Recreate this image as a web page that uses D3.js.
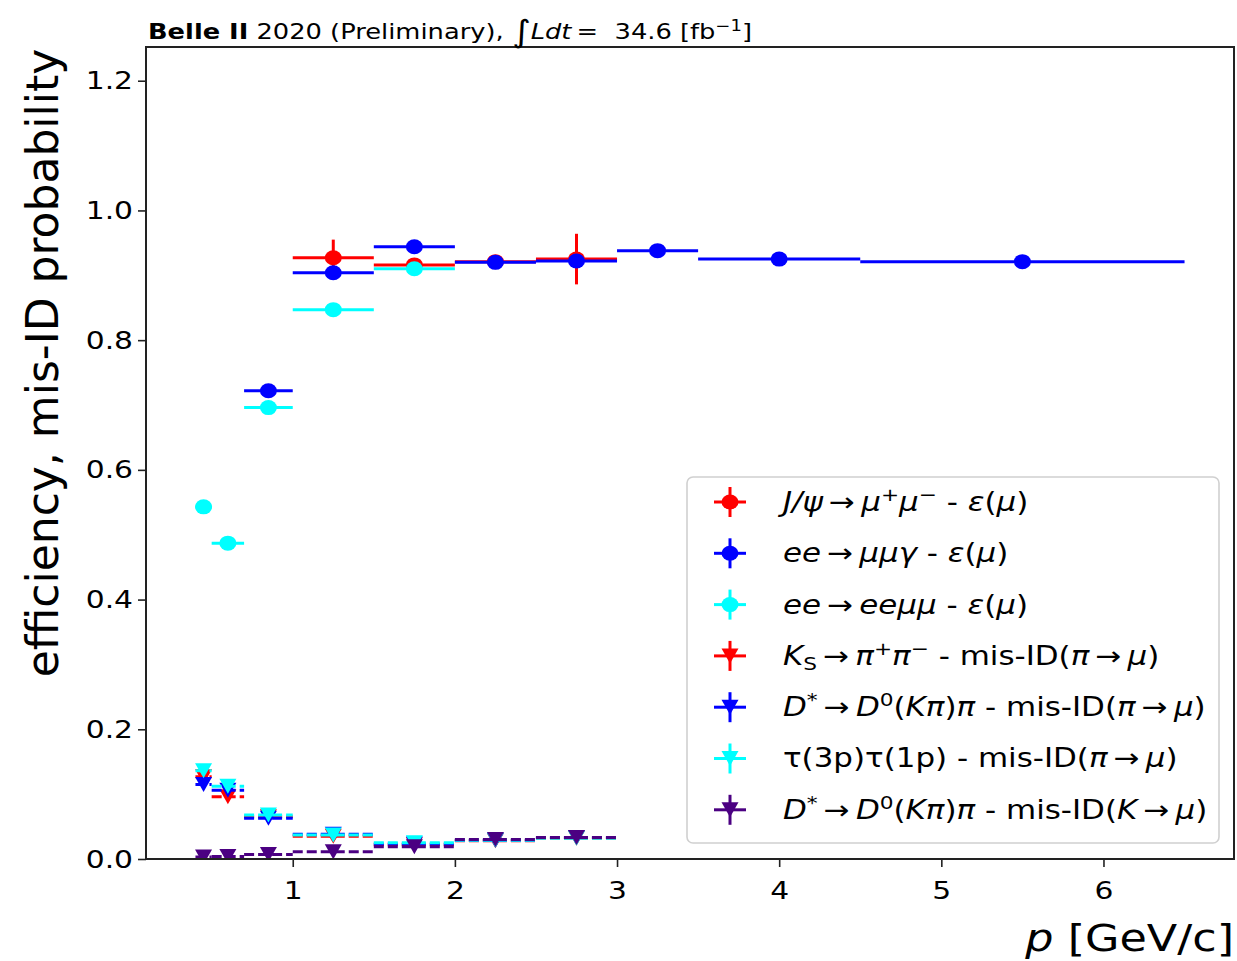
<!DOCTYPE html>
<html>
<head>
<meta charset="utf-8">
<script src="https://cdn.jsdelivr.net/npm/d3@7"></script>
<style>
  body { margin: 0; background: #fff; }
  svg text { font-family: 'DejaVu Sans', sans-serif; fill: #000; }
</style>
</head>
<body>
<svg id="chart" width="1237" height="961"></svg>
<script>
// momentum bins [GeV/c]
let binLo = [0.4, 0.5, 0.7, 1.0, 1.5, 2.0, 2.5, 3.0, 3.5, 4.5];
let binHi = [0.5, 0.7, 1.0, 1.5, 2.0, 2.5, 3.0, 3.5, 4.5, 6.5];

// efficiencies
let jpsiEff   = [null, null, null, 0.927, 0.916, 0.921, 0.925, null, null, null];
let jpsiErr   = [null, null, null, 0.028, 0.006, 0.005, 0.039, null, null, null];
let mumugEff  = [null, null, 0.722, 0.904, 0.944, 0.920, 0.922, 0.938, 0.925, 0.921];
let eemumuEff = [0.543, 0.487, 0.696, 0.847, 0.910, null, null, null, null, null];

// mis-ID probabilities
let ksMis    = [0.127, 0.096, 0.065, 0.035, 0.022, 0.028, 0.032, null, null, null];
let dstPiMis = [0.115, 0.106, 0.063, 0.038, 0.023, 0.029, 0.033, null, null, null];
let tauMis   = [0.136, 0.112, 0.068, 0.037, 0.025, 0.029, 0.032, null, null, null];
let dstKMis  = [0.003, 0.004, 0.007, 0.011, 0.019, 0.030, 0.033, null, null, null];

let yTicks = [0.0, 0.2, 0.4, 0.6, 0.8, 1.0, 1.2];
let xTicks = [1, 2, 3, 4, 5, 6];

let COLORS = {
  red: '#ff0000',
  blue: '#0000ff',
  cyan: '#00ffff',
  indigo: '#4b0082'
};

// legend labels as [text, style] pieces (i = italic, sup / sub = raised / lowered)
let ARROW = '\u2009\u2192\u2009';
let SERIES = [
  { vals: jpsiEff, errs: jpsiErr, color: COLORS.red, marker: 'o', dashed: false,
    label: [['J/\u03c8', 'i'], [ARROW, 'n'], ['\u03bc', 'i'], ['+', 'sup'], ['\u03bc', 'i'], ['\u2212', 'sup'], [' - ', 'n'], ['\u03b5', 'i'], ['(', 'n'], ['\u03bc', 'i'], [')', 'n']] },
  { vals: mumugEff, color: COLORS.blue, marker: 'o', dashed: false,
    label: [['ee', 'i'], [ARROW, 'n'], ['\u03bc\u03bc\u03b3', 'i'], [' - ', 'n'], ['\u03b5', 'i'], ['(', 'n'], ['\u03bc', 'i'], [')', 'n']] },
  { vals: eemumuEff, color: COLORS.cyan, marker: 'o', dashed: false,
    label: [['ee', 'i'], [ARROW, 'n'], ['ee\u03bc\u03bc', 'i'], [' - ', 'n'], ['\u03b5', 'i'], ['(', 'n'], ['\u03bc', 'i'], [')', 'n']] },
  { vals: ksMis, color: COLORS.red, marker: 'v', dashed: true,
    label: [['K', 'i'], ['S', 'sub'], [ARROW, 'n'], ['\u03c0', 'i'], ['+', 'sup'], ['\u03c0', 'i'], ['\u2212', 'sup'], [' - mis-ID(', 'n'], ['\u03c0', 'i'], [ARROW, 'n'], ['\u03bc', 'i'], [')', 'n']] },
  { vals: dstPiMis, color: COLORS.blue, marker: 'v', dashed: true,
    label: [['D', 'i'], ['*', 'sup'], [ARROW, 'n'], ['D', 'i'], ['0', 'sup'], ['(', 'n'], ['K\u03c0', 'i'], [')', 'n'], ['\u03c0', 'i'], [' - mis-ID(', 'n'], ['\u03c0', 'i'], [ARROW, 'n'], ['\u03bc', 'i'], [')', 'n']] },
  { vals: tauMis, color: COLORS.cyan, marker: 'v', dashed: true,
    label: [['\u03c4(3p)\u03c4(1p) - mis-ID(', 'n'], ['\u03c0', 'i'], [ARROW, 'n'], ['\u03bc', 'i'], [')', 'n']] },
  { vals: dstKMis, color: COLORS.indigo, marker: 'v', dashed: true,
    label: [['D', 'i'], ['*', 'sup'], [ARROW, 'n'], ['D', 'i'], ['0', 'sup'], ['(', 'n'], ['K\u03c0', 'i'], [')', 'n'], ['\u03c0', 'i'], [' - mis-ID(', 'n'], ['K', 'i'], [ARROW, 'n'], ['\u03bc', 'i'], [')', 'n']] }
];

let plotLeft = 146, plotRight = 1234, plotTop = 47, plotBottom = 859;
let textStretch = 1.19; // reference text is a bit wider than plain DejaVu

window.onload = function () {
  let svg = d3.select('#chart');

  let x = d3.scaleLinear().domain([0.095, 6.805]).range([plotLeft, plotRight]);
  let y = d3.scaleLinear().domain([0, 1.252]).range([plotBottom, plotTop]);

  // clip for data marks
  svg.append('clipPath').attr('id', 'plotclip')
    .append('rect')
      .attr('x', plotLeft).attr('y', plotTop)
      .attr('width', plotRight - plotLeft).attr('height', plotBottom - plotTop);

  // axes
  let yAxis = svg.append('g')
    .attr('transform', 'translate(' + plotLeft + ',0)')
    .call(d3.axisLeft(y).tickValues(yTicks).tickFormat(d3.format('.1f')).tickSize(8).tickPadding(5));
  let xAxis = svg.append('g')
    .attr('transform', 'translate(0,' + plotBottom + ')')
    .call(d3.axisBottom(x).tickValues(xTicks).tickFormat(d3.format('d')).tickSize(8).tickPadding(14));

  [yAxis, xAxis].forEach(function (ax) {
    ax.select('.domain').remove();
    ax.selectAll('.tick line').attr('stroke', '#222').attr('stroke-width', 1.6);
    ax.selectAll('.tick text')
      .style('font-family', "'DejaVu Sans', sans-serif")
      .style('font-size', '25px')
      .attr('fill', '#222')
      .each(function () { stretchX(d3.select(this), +this.getAttribute('x') || 0, textStretch); });
  });

  // data
  let plot = svg.append('g').attr('clip-path', 'url(#plotclip)');

  SERIES.forEach(function (s) {
    let pts = [];
    s.vals.forEach(function (v, i) {
      if (v === null) return;
      pts.push({
        lo: binLo[i], hi: binHi[i], c: (binLo[i] + binHi[i]) / 2,
        v: v, e: s.errs ? s.errs[i] : 0
      });
    });

    let g = plot.append('g');

    // horizontal bin width bars
    g.selectAll('.xbar').data(pts).enter().append('line')
      .attr('x1', d => x(d.lo))
      .attr('x2', d => x(d.hi))
      .attr('y1', d => y(d.v))
      .attr('y2', d => y(d.v))
      .attr('stroke', s.color)
      .attr('stroke-width', 3)
      .attr('stroke-dasharray', s.dashed ? '10,4' : null);

    // vertical error bars
    g.selectAll('.ybar').data(pts.filter(d => d.e > 0)).enter().append('line')
      .attr('x1', d => x(d.c))
      .attr('x2', d => x(d.c))
      .attr('y1', d => y(d.v - d.e))
      .attr('y2', d => y(d.v + d.e))
      .attr('stroke', s.color)
      .attr('stroke-width', 3);

    drawMarkers(g, pts.map(d => [x(d.c), y(d.v)]), s);
  });

  // frame
  svg.append('rect')
    .attr('x', plotLeft).attr('y', plotTop)
    .attr('width', plotRight - plotLeft).attr('height', plotBottom - plotTop)
    .attr('fill', 'none')
    .attr('stroke', '#222')
    .attr('stroke-width', 2);

  // legend
  let lg = svg.append('g').attr('class', 'legend');
  lg.append('rect')
    .attr('x', 687).attr('y', 477)
    .attr('width', 532).attr('height', 366)
    .attr('rx', 6)
    .attr('fill', '#fff').attr('fill-opacity', 0.8)
    .attr('stroke', '#d0d0d0').attr('stroke-width', 1.6);

  SERIES.forEach(function (s, i) {
    let cy = 502 + i * 51.3;
    let cx = 730;
    let item = lg.append('g');
    item.append('line')
      .attr('x1', cx - 16).attr('x2', cx + 16)
      .attr('y1', cy).attr('y2', cy)
      .attr('stroke', s.color).attr('stroke-width', 3);
    item.append('line')
      .attr('x1', cx).attr('x2', cx)
      .attr('y1', cy - 15).attr('y2', cy + 15)
      .attr('stroke', s.color).attr('stroke-width', 3);
    drawMarkers(item, [[cx, cy]], s);

    let t = item.append('text')
      .attr('x', 783)
      .attr('y', cy + 9)
      .style('font-size', '26px');
    richText(t, s.label, 26);
    stretchX(t, 783, textStretch);
  });

  // title
  let title = svg.append('text')
    .attr('x', 148).attr('y', 39)
    .style('font-size', '22px');
  richText(title, [['Belle II', 'b'], [' 2020 (Preliminary), ', 'n'], ['\u222b', 'big'], ['Ldt', 'i'], ['\u2009=\u00a0\u00a034.6 [fb', 'n'], ['\u22121', 'sup'], [']', 'n']], 22);
  stretchX(title, 148, 1.17);

  // axis labels
  svg.append('text')
    .attr('transform', 'translate(58,' + 363 + ') rotate(-90)')
    .attr('text-anchor', 'middle')
    .style('font-size', '44px')
    .text('efficiency, mis-ID probability');

  let xl = svg.append('text')
    .attr('x', plotRight).attr('y', 951)
    .attr('text-anchor', 'end')
    .style('font-size', '38px');
  richText(xl, [['p', 'i'], [' [GeV/c]', 'n']], 38);
  stretchX(xl, plotRight, 1.17);
};

function stretchX(sel, ax, sx) {
  sel.attr('transform', 'translate(' + ax + ',0) scale(' + sx + ',1) translate(' + (-ax) + ',0)');
}

function drawMarkers(g, xy, s) {
  if (s.marker === 'o') {
    g.selectAll(null).data(xy).enter().append('ellipse')
      .attr('cx', d => d[0]).attr('cy', d => d[1])
      .attr('rx', 8.5).attr('ry', 7.5)
      .attr('fill', s.color);
  } else {
    let hw = 8.5, hh = 7.5;
    g.selectAll(null).data(xy).enter().append('path')
      .attr('d', d => 'M' + (d[0] - hw) + ',' + (d[1] - hh) +
                      'L' + (d[0] + hw) + ',' + (d[1] - hh) +
                      'L' + d[0] + ',' + (d[1] + hh) + 'Z')
      .attr('fill', s.color);
  }
}

function richText(textSel, segs, size) {
  let shift = 0;
  segs.forEach(function (seg) {
    let str = seg[0], st = seg[1];
    let ts = textSel.append('tspan').text(str);
    let target = st === 'sup' ? -0.38 * size : (st === 'sub' ? 0.18 * size : (st === 'big' ? 0.12 * size : 0));
    if (target !== shift) {
      ts.attr('dy', target - shift);
      shift = target;
    }
    if (st === 'i') ts.style('font-style', 'italic');
    if (st === 'b') ts.style('font-weight', 'bold');
    if (st === 'sup' || st === 'sub') ts.style('font-size', (size * 0.7) + 'px');
    if (st === 'big') ts.style('font-size', (size * 1.4) + 'px');
  });
}
</script>
</body>
</html>
